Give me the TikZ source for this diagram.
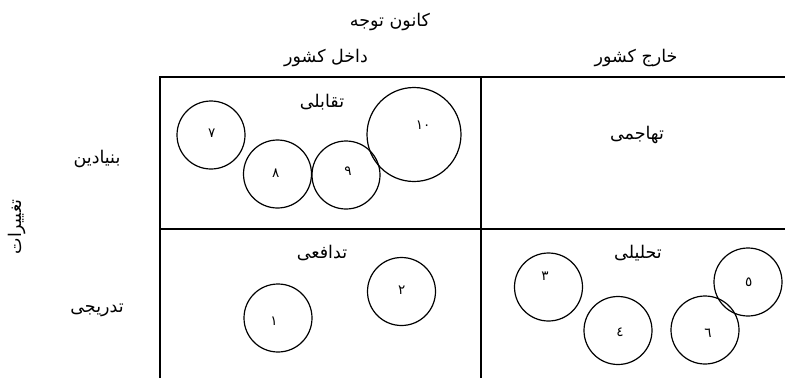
\documentclass[tikz,border=0pt]{standalone}
\usepackage{fontspec}
\TeXXeTstate=1
\newfontfamily\arabicfont[Script=Arabic]{DejaVu Sans}
\begin{document}
\begin{tikzpicture}[x=1pt,y=-1pt,
  gridline/.style={line width=1.8pt},
  bubble/.style={circle, draw, line width=1.2pt, minimum size=68pt, inner sep=0pt},
  bigbubble/.style={bubble, minimum size=94pt},
  num/.style={font=\arabicfont\fontsize{13.5}{14}\selectfont, inner sep=0pt},
  head/.style={font=\arabicfont\fontsize{17.5}{19}\selectfont, inner sep=0pt}]
\useasboundingbox (0,0) rectangle (785,378);
% grid
\coordinate (gTL) at (160,77);
\coordinate (gTR) at (785,77);
\coordinate (gBL) at (160,378);
\coordinate (gTM) at (481,77);
\coordinate (gBM) at (481,378);
\coordinate (gML) at (160,229);
\coordinate (gMR) at (785,229);
\draw[gridline] (gBL) -- (gTL) -- (gTR);
\draw[gridline] (gTM) -- (gBM);
\draw[gridline] (gML) -- (gMR);
% headings
\node[head] (focus) at (390,22) {\arabicfont\beginR کانون توجه\endR};
\node[head] (inside) at (326,58) {\arabicfont\beginR داخل کشور\endR};
\node[head] (outside) at (636,58) {\arabicfont\beginR خارج کشور\endR};
\node[head] (radical) at (97,159) {\arabicfont\beginR بنیادین\endR};
\node[head] (gradual) at (97,310) {\arabicfont\beginR تدریجی\endR};
\node[head, rotate=90] (change) at (17,227) {\arabicfont\beginR تغییرات\endR};
\node[head] (q1) at (322,102) {\arabicfont\beginR تقابلی\endR};
\node[head] (q2) at (637,135) {\arabicfont\beginR تهاجمی\endR};
\node[head] (q3) at (322,253) {\arabicfont\beginR تدافعی\endR};
\node[head] (q4) at (638,253) {\arabicfont\beginR تحلیلی\endR};
% circles
\node[bubble] (c7) at (211,135) {};
\node[bubble] (c8) at (277.5,174) {};
\node[bubble] (c9) at (346,175) {};
\node[bigbubble] (c10) at (414,134.5) {};
\node[bubble] (c1) at (278,318) {};
\node[bubble] (c2) at (401.5,291.5) {};
\node[bubble] (c3) at (548.5,287) {};
\node[bubble] (c4) at (618,330.5) {};
\node[bubble] (c5) at (748,282) {};
\node[bubble] (c6) at (705,330) {};
% numbers
\node[num] (n7) at (211.7,133) {٧};
\node[num] (n8) at (275.7,173) {٨};
\node[num] (n9) at (348,170.7) {٩};
\node[num] (n10) at (423,125.7) {١٠};
\node[num] (n1) at (274,321.7) {١};
\node[num] (n2) at (401.7,290) {٢};
\node[num] (n3) at (545,276.7) {٣};
\node[num] (n4) at (620,332) {٤};
\node[num] (n5) at (748.7,282.7) {٥};
\node[num] (n6) at (708,333) {٦};
\end{tikzpicture}
\end{document}
